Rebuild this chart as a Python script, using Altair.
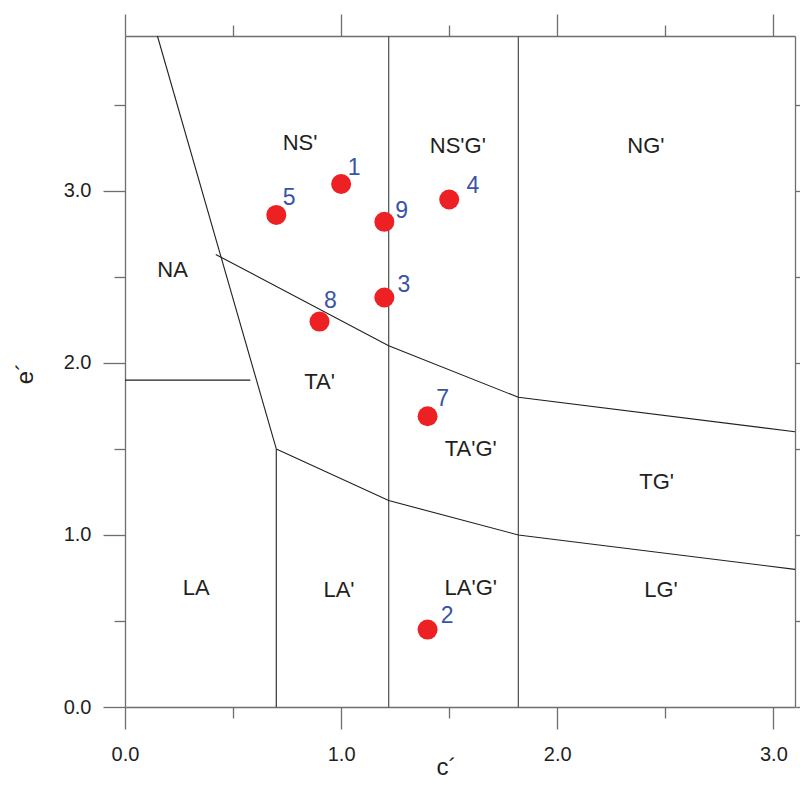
import altair as alt
import pandas as pd

# ---- sample points (c', e') ----
pt_id = ["1", "2", "3", "4", "5", "7", "8", "9"]
pt_c = [1.0, 1.4, 1.2, 1.5, 0.7, 1.4, 0.9, 1.2]
pt_e = [3.04, 0.45, 2.38, 2.95, 2.86, 1.69, 2.24, 2.82]
# positions of the number labels (data units)
lab_c = [1.06, 1.49, 1.29, 1.61, 0.76, 1.47, 0.95, 1.28]
lab_e = [3.13, 0.53, 2.45, 3.03, 2.96, 1.79, 2.36, 2.88]

# ---- region names ----
reg_name = ["NS'", "NS'G'", "NG'", "NA", "TA'", "TA'G'", "TG'", "LA", "LA'", "LA'G'", "LG'"]
reg_c = [0.81, 1.54, 2.41, 0.22, 0.90, 1.60, 2.46, 0.33, 0.99, 1.60, 2.48]
reg_e = [3.28, 3.26, 3.26, 2.54, 1.89, 1.50, 1.31, 0.69, 0.68, 0.69, 0.68]

# ---- boundary polylines ----
steep_c = [0.15, 0.70]
steep_e = [3.90, 1.50]
upper_c = [0.42, 1.22, 1.82, 3.10]
upper_e = [2.63, 2.10, 1.80, 1.60]
lower_c = [0.70, 1.22, 1.82, 3.10]
lower_e = [1.50, 1.20, 1.00, 0.80]
na_c = [0.00, 0.58]
na_e = [1.90, 1.90]
v07_c = [0.70, 0.70]
v07_e = [0.00, 1.50]
# full-height verticals
vert_c = [1.22, 1.82]
e_min, e_max = 0.0, 3.9
c_min, c_max = 0.0, 3.1

tick_vals_x = [0.0, 0.5, 1.0, 1.5, 2.0, 2.5, 3.0]
tick_vals_y = [0.0, 0.5, 1.0, 1.5, 2.0, 2.5, 3.0, 3.5]

rows = []
for sid, (cs, es) in enumerate([(steep_c, steep_e), (upper_c, upper_e),
                                (lower_c, lower_e), (na_c, na_e), (v07_c, v07_e)]):
    for i, (c, e) in enumerate(zip(cs, es)):
        rows.append({"x": c, "y": e, "seg": sid, "ord": i})
lines_df = pd.DataFrame(rows)

vrows = []
for sid, c in enumerate(vert_c):
    vrows.append({"x": c, "y": e_min, "seg": sid, "ord": 0})
    vrows.append({"x": c, "y": e_max, "seg": sid, "ord": 1})
vert_df = pd.DataFrame(vrows)

pts_df = pd.DataFrame({"x": pt_c, "y": pt_e, "id": pt_id})
lab_df = pd.DataFrame({"x": lab_c, "y": lab_e, "id": pt_id})
reg_df = pd.DataFrame({"x": reg_c, "y": reg_e, "name": reg_name})

FONT = "Liberation Sans, Arial, Helvetica, sans-serif"
AX = "#6d6e71"

xs = alt.Scale(domain=[c_min, c_max], nice=False, zero=False)
ys = alt.Scale(domain=[e_min, e_max], nice=False, zero=False)

major_minor = {"condition": {"test": "datum.value % 1 === 0", "value": 22}, "value": 11}
lab_expr = "datum.value % 1 === 0 ? format(datum.value, '.1f') : ''"

x_axis = alt.Axis(values=tick_vals_x, tickSize=major_minor, labelExpr=lab_expr,
                  labelFont=FONT, labelFontSize=20, labelColor="#231f20", labelPadding=15,
                  tickColor=AX, tickWidth=1.3, domainColor=AX, domainWidth=1.3,
                  grid=False, labelFlush=False, labelOverlap=False,
                  title="c\u00b4", titleFont=FONT, titleFontSize=24, titleFontWeight="normal",
                  titleColor="#231f20", titleX=321, titleY=67, titleBaseline="alphabetic",
                  titleAlign="center")
y_axis = alt.Axis(values=tick_vals_y, tickSize=major_minor, labelExpr=lab_expr,
                  labelFont=FONT, labelFontSize=20, labelColor="#231f20", labelPadding=12,
                  tickColor=AX, tickWidth=1.3, domainColor=AX, domainWidth=1.3,
                  grid=False, labelFlush=False, labelOverlap=False,
                  title="e\u00b4", titleFont=FONT, titleFontSize=24, titleFontWeight="normal",
                  titleColor="#231f20", titleX=-93, titleY=337, titleAngle=270,
                  titleBaseline="alphabetic", titleAlign="center")

X = alt.X("x:Q", scale=xs, axis=x_axis)
Y = alt.Y("y:Q", scale=ys, axis=y_axis)

lines = alt.Chart(lines_df).mark_line(color="#231f20", strokeWidth=1.1).encode(
    x=X, y=Y, detail="seg:N", order="ord:Q")
verts = alt.Chart(vert_df).mark_line(color="#58595b", strokeWidth=1.3).encode(
    x=X, y=Y, detail="seg:N", order="ord:Q")
points = alt.Chart(pts_df).mark_circle(size=400, color="#ed2024", opacity=1).encode(x=X, y=Y)
labels = alt.Chart(lab_df).mark_text(font=FONT, fontSize=23, color="#3a53a4",
                                     align="center", baseline="middle").encode(
    x=X, y=Y, text="id:N")
regions = alt.Chart(reg_df).mark_text(font=FONT, fontSize=22, color="#231f20",
                                      align="center", baseline="middle").encode(
    x=X, y=Y, text="name:N")

main = alt.layer(verts, lines, points, labels, regions)

top_axis = alt.Axis(orient="top", values=tick_vals_x, tickSize=major_minor, labels=False,
                    tickColor=AX, tickWidth=1.3, domainColor=AX, domainWidth=1.3,
                    grid=False, title="")
right_axis = alt.Axis(orient="right", values=tick_vals_y, tickSize=11, labels=False,
                      tickColor=AX, tickWidth=1.3, domainColor=AX, domainWidth=1.3,
                      grid=False, title="")
frame = alt.Chart(reg_df).mark_point(opacity=0).encode(
    x=alt.X("x:Q", scale=xs, axis=top_axis),
    y=alt.Y("y:Q", scale=ys, axis=right_axis))

chart = alt.layer(main, frame).resolve_axis(x="independent", y="independent").properties(
    width=670, height=671, autosize=alt.AutoSizeParams(type="none"),
    padding={"left": 117, "top": 28, "right": 5, "bottom": 74},
    background="white"
).configure_view(stroke=None)

chart.save("out.html", embed_options={"renderer": "svg", "actions": False})
